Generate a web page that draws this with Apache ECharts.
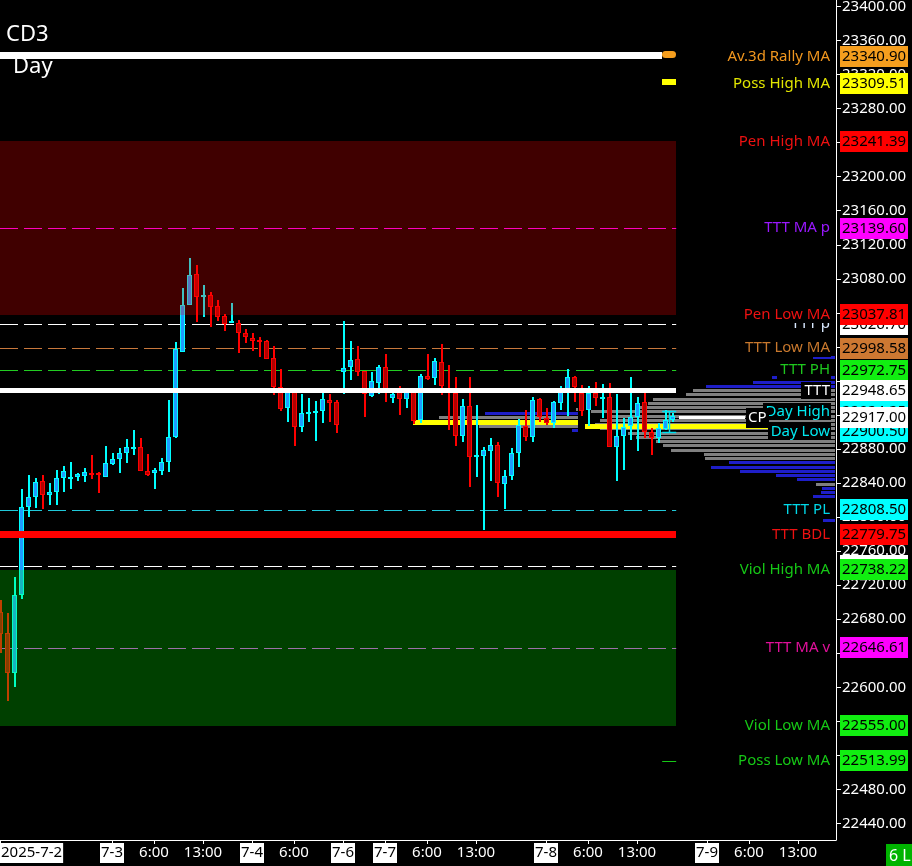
<!DOCTYPE html>
<html>
<head>
<meta charset="utf-8">
<script src="https://cdn.jsdelivr.net/npm/echarts@6.0.0/dist/echarts.min.js"></script>
<style>
html,body{margin:0;padding:0;background:#000;overflow:hidden;}
#chart{width:912px;height:866px;}
</style>
</head>
<body>
<div id="chart"></div>
<script>
// ---------------- DATA ----------------
const xTickIdx = [0, 16, 22, 29, 36, 42, 49, 55, 61, 68, 78, 84, 91, 101, 107, 114];
const xTickLabels = ['2025-7-2', '7-3', '6:00', '13:00', '7-4', '6:00', '7-6', '7-7', '6:00', '13:00', '7-8', '6:00', '13:00', '7-9', '6:00', '13:00'];
const yTicks = [22440, 22480, 22520, 22560, 22600, 22640, 22680, 22720, 22760, 22800, 22840, 22880, 22920, 22960, 23000, 23040, 23080, 23120, 23160, 23200, 23240, 23280, 23320, 23360, 23400];

const candleOpen = [22688.9,22663.4,22617.2,22708.4,22812.2,22823.2,22842.0,22826.4,22829.9,22845.5,
22845.5,22847.5,22848.7,22851.4,22852.2,22847.5,22862.4,22867.9,22874.9,22880.0,
22882.0,22853.8,22851.4,22854.6,22864.4,22894.5,22994.4,23049.2,23085.3,23058.2,
23060.6,23048.1,23036.3,23027.7,23028.5,23015.9,23010.5,23008.1,23007.3,22986.6,
22953.3,22927.8,22947.0,22905.5,22922.7,22922.7,22925.1,22937.6,22934.9,22970.9,
22976.8,22985.4,22971.7,22942.7,22957.9,22976.0,22940.0,22947.4,22939.2,22947.4,
22914.1,22965.8,22963.1,22982.3,22950.0,22945.4,22895.3,22930.5,22871.0,22872.2,
22878.0,22884.7,22838.5,22848.7,22874.9,22907.0,22894.5,22938.4,22916.1,22911.0,
22934.5,22946.2,22964.2,22946.2,22925.9,22945.4,22940.3,22940.7,22882.8,22895.3,
22907.4,22918.0,22935.6,22900.4,22892.6,22903.1,22914.1];
const candleClose = [22662.6,22617.2,22708.5,22812.2,22823.2,22840.8,22826.4,22829.1,22845.5,22853.8,
22846.7,22850.3,22852.6,22850.6,22849.1,22863.2,22867.9,22874.9,22882.0,22882.4,
22854.6,22849.5,22855.3,22864.4,22893.7,22997.1,23048.8,23084.1,23058.2,23061.0,
23047.3,23035.5,23026.9,23030.0,23015.9,23011.2,23006.6,23006.9,22986.2,22953.3,
22927.4,22947.0,22906.3,22922.7,22923.9,22924.3,22938.4,22934.5,22907.8,22975.6,
22984.6,22970.9,22944.3,22959.9,22976.8,22946.6,22945.0,22938.4,22947.4,22913.3,
22965.8,22961.9,22983.4,22954.0,22946.0,22895.3,22930.5,22871.0,22873.0,22878.8,
22884.7,22839.7,22848.3,22874.9,22908.2,22894.5,22937.6,22917.2,22911.0,22935.6,
22948.6,22964.2,22952.5,22924.7,22945.4,22940.3,22941.3,22882.8,22895.3,22906.3,
22917.2,22934.5,22900.4,22892.6,22904.3,22914.1,22918.8];
const candleLow = [22639.9,22583.9,22600.7,22703.7,22800.5,22811.1,22809.9,22814.6,22814.6,22829.9,
22833.4,22842.8,22841.6,22845.1,22828.7,22847.5,22861.2,22852.2,22864.0,22873.0,
22854.6,22848.7,22832.6,22849.5,22853.4,22893.3,22994.4,23049.2,23029.6,23035.5,
23023.8,23030.4,23019.1,23027.7,22993.2,23005.0,22995.6,22988.5,22985.4,22943.9,
22925.0,22912.1,22883.9,22900.4,22912.1,22889.8,22910.9,22912.1,22898.4,22944.6,
22961.1,22965.8,22917.2,22941.5,22944.3,22935.6,22934.5,22920.0,22928.6,22909.4,
22911.0,22961.1,22955.2,22943.5,22902.3,22883.9,22888.6,22835.8,22847.5,22784.8,
22842.8,22824.0,22809.1,22843.6,22859.3,22889.8,22888.6,22912.1,22908.2,22905.1,
22925.9,22918.8,22935.6,22918.8,22907.0,22930.5,22916.1,22882.8,22842.4,22855.3,
22890.6,22878.0,22892.5,22873.0,22886.7,22902.3,22912.1];
const candleHigh = [22702.6,22687.3,22729.6,22832.6,22849.1,22845.5,22849.1,22839.7,22855.4,22859.7,
22864.4,22851.4,22857.3,22872.6,22852.6,22883.6,22874.9,22880.8,22891.4,22902.0,
22892.6,22874.1,22857.3,22869.1,22937.6,23005.8,23069.2,23104.5,23096.2,23072.7,
23064.5,23055.1,23038.7,23051.2,23031.6,23021.0,23015.9,23011.2,23008.1,23001.0,
22973.6,22951.3,22949.3,22944.6,22939.9,22936.4,22947.4,22944.6,22937.6,23030.4,
23006.9,23001.0,22971.7,22970.9,22978.7,22991.7,22952.0,22954.0,22952.0,22952.0,
22968.1,22991.7,22987.3,23003.4,22978.7,22964.6,22939.2,22964.2,22931.7,22882.0,
22893.3,22887.9,22855.3,22880.8,22915.3,22925.9,22940.7,22939.6,22927.8,22936.4,
22954.0,22973.6,22965.8,22955.2,22954.0,22959.1,22956.4,22958.0,22944.6,22916.8,
22964.2,22940.7,22945.4,22904.3,22910.2,22925.9,22921.9];

// right-side level labels (drawing order)
const levelNames = ['Av.3d Rally MA','Poss High MA','Pen High MA','TTT MA p','TTT p','Pen Low MA','TTT Low MA','TTT PH','TTT','Day High','Day Low','CP','TTT PL','TTT BDL','','Viol High MA','TTT MA v','Viol Low MA','Poss Low MA'];
const levelValues = [23340.90,23309.51,23241.39,23139.60,23026.70,23037.81,22998.58,22972.75,22948.65,22924.25,22900.50,22917.00,22808.50,22779.75,22742.75,22738.22,22646.61,22555.00,22513.99];

// shaded zones
const zoneHigh = [23241.39, 22738.22];
const zoneLow = [23037.81, 22555.00];

// dashed level lines
const dashedValues = [23139.60, 23026.70, 22998.58, 22972.75, 22808.50, 22742.75, 22646.61];

// thick solid level lines
const solidValues = [23342.5, 22948.65, 22779.75];

// previous-profile POC lines (bar index ranges)
const pocValues = [22911.7, 22906.7];
const pocFrom = [59, 83.6];
const pocTo = [82.6, 110];

// CP line
const cpValue = 22917.00;
const cpFrom = 97, cpTo = 106.4;

// volume profiles (price rows, volume, outside-value-area flag)
const rightProfilePrice = [22988,22963.75,22958.75,22953.75,22948.75,22943.75,22938.75,22933.75,22928.75,22923.75,22918.75,22913.75,22908.75,22903.75,22898.75,22893.75,22888.75,22883.75,22878.75,22873.75,22868.75,22863.75,22858.75,22853.75,22848.75,22843.75,22838.75,22833.75,22828.75,22823.75,22796.5];
const rightProfileVol   = [22,63,82,129,142,149,182,187,195,244,226,235,240,235,207,199,179,172,164,131,130,106,124,95,59,38,19,13,14,22,12];
const rightProfileOut   = [1,1,1,1,0,0,0,0,0,0,0,0,0,0,0,0,0,0,0,0,0,1,1,1,1,1,0,1,1,1,1];
const leftProfilePrice = [22927, 22922, 22917.5, 22912.5, 22907, 22902];
const leftProfileVol   = [2, 93, 139, 145, 99, 6];
const leftProfileOut   = [0, 1, 0, 0, 0, 1];
const rightProfileAnchor = 119.3, leftProfileAnchor = 82.6;

// ---------------- STYLE ----------------
const FONT = '"Noto Sans", "DejaVu Sans", sans-serif';
const levelTextColors = ['#f0961e','#e2e600','#ee1111','#9a18ff','#d8e8ff','#ee1111','#c8782d','#1ec81e','#ffffff','#00e8f0','#00e8f0','#ffffff','#00d8e8','#ee1111','#ffffff','#16c816','#e0109a','#16c816','#16c816'];
const levelBoxColors  = ['#f59e1e','#ffff00','#ff0000','#ff00ff','#ffffff','#ff0000','#cd7832','#11ee11','#ffffff','#00ffff','#00ffff','#ffffff','#00ffff','#ff0000','#ffffff','#11ee11','#ff00ff','#11ee11','#11ee11'];
const zoneColors = ['rgba(255,0,0,0.25)', 'rgba(0,255,0,0.25)'];
const dashedColors = ['#ff00ff','#ffffff','#c8783c','#22cc22','#20c8d8','#ffffff','#d040e0'];
const solidColors = ['#ffffff','#ffffff','#ff0000'];
const solidWidths = [7, 5, 7];
const PROFILE_UNIT = 1 / 7;

const lastBar = candleOpen.length - 1;
const levelEnd = lastBar + 0.6;
const markerStart = lastBar - 1.4;
const solidFrom = [0, 0, 0];
const solidTo = [markerStart, levelEnd, levelEnd];

const candleData = candleOpen.map((o, i) => [i, o, candleClose[i], candleLow[i], candleHigh[i]]);
const profileData = [];
rightProfilePrice.forEach((p, i) => profileData.push([rightProfileAnchor, p, rightProfileVol[i], rightProfileOut[i]]));
leftProfilePrice.forEach((p, i) => profileData.push([leftProfileAnchor, p, leftProfileVol[i], leftProfileOut[i]]));

const measureCtx = document.createElement('canvas').getContext('2d');
function textWidth(s, font) { measureCtx.font = font; return measureCtx.measureText(s).width; }

const chart = echarts.init(document.getElementById('chart'), null, {renderer: 'canvas'});

function hRect(api, x0, x1, v, w, color) {
  const a = api.coord([x0, v]), b = api.coord([x1, v]);
  return {type: 'rect', shape: {x: Math.round(a[0]), y: Math.round(a[1] - w / 2), width: Math.round(b[0]) - Math.round(a[0]), height: w}, style: {fill: color}};
}

const option = {
  backgroundColor: '#000',
  animation: false,
  grid: {left: 0, right: 76, top: 0, bottom: 26, containLabel: false, outerBoundsMode: 'none', show: false},
  xAxis: {
    type: 'value', min: 0, max: 119.43,
    axisLine: {show: true, onZero: false, lineStyle: {color: '#ffffff', width: 1}},
    axisTick: {show: true, customValues: xTickIdx, length: 4, lineStyle: {color: '#ffffff'}},
    splitLine: {show: false},
    axisLabel: {
      show: true, customValues: xTickIdx, margin: 4, alignMinLabel: 'left',
      formatter: function (v) {
        const k = xTickIdx.indexOf(Math.round(v));
        if (k < 0) return '';
        const s = xTickLabels[k];
        return s.indexOf(':') >= 0 ? '{t|' + s + '}' : '{d|' + s + '}';
      },
      rich: {
        d: {backgroundColor: '#ffffff', color: '#000', fontSize: 15, fontFamily: FONT, lineHeight: 18, padding: [2, 1, 3, 1]},
        t: {color: '#ffffff', fontSize: 15, fontFamily: FONT, lineHeight: 18, padding: [2, 0, 3, 0]}
      }
    }
  },
  yAxis: {
    type: 'value', position: 'right', min: 22420.6, max: 23407.6, scale: true,
    axisLine: {show: true, onZero: false, lineStyle: {color: '#ffffff', width: 1}},
    axisTick: {show: true, customValues: yTicks, length: 5, lineStyle: {color: '#ffffff'}},
    splitLine: {show: false},
    axisLabel: {customValues: yTicks, margin: 6, color: '#ffffff', fontSize: 15, fontFamily: FONT, formatter: v => Number(v).toFixed(2)}
  },
  graphic: [
    {type: 'text', x: 6, y: 35, z: 100, style: {text: 'CD3', fill: '#ffffff', font: '22px ' + FONT, verticalAlign: 'middle'}},
    {type: 'text', x: 13, y: 67, z: 100, style: {text: 'Day', fill: '#ffffff', font: '22px ' + FONT, verticalAlign: 'middle'}},
    {type: 'rect', x: 886, y: 844, z: 100, shape: {x: 0, y: 0, width: 26, height: 22}, style: {fill: '#00b400'}},
    {type: 'text', x: 889, y: 856, z: 101, style: {text: '6 L', fill: '#ffffff', font: '16px ' + FONT, verticalAlign: 'middle'}}
  ],
  series: [
    { // volume profiles
      type: 'custom', name: 'profile', z: 1, silent: true,
      data: profileData,
      renderItem: function (params, api) {
        const anchor = api.value(0), p = api.value(1), vol = api.value(2), out = api.value(3);
        const r = api.coord([anchor, p]), l = api.coord([anchor - vol * PROFILE_UNIT, p]);
        const y = Math.round(r[1] - 1.5);
        return {type: 'rect', shape: {x: Math.round(l[0]), y: y, width: Math.round(r[0]) - Math.round(l[0]), height: 3},
          style: {fill: out ? '#1e1ec8' : '#808080'}};
      }
    },
    { // POC yellow + dashed lines
      type: 'custom', name: 'levels', z: 2, silent: true,
      data: dashedValues.map((v, i) => [i, v]),
      renderItem: function (params, api) {
        const i = params.dataIndex;
        const children = [];
        const a = api.coord([0, dashedValues[i]]), b = api.coord([levelEnd, dashedValues[i]]);
        const y = Math.round(a[1]) + 0.5;
        children.push({type: 'line', shape: {x1: a[0], y1: y, x2: b[0], y2: y}, style: {stroke: dashedColors[i], lineWidth: 1, lineDash: [18, 6]}});
        if (i < pocValues.length) children.push(hRect(api, pocFrom[i], pocTo[i], pocValues[i], 5, '#ffff00'));
        return {type: 'group', children: children};
      }
    },
    { // candles
      type: 'custom', name: 'candles', z: 3, silent: true,
      data: candleData,
      renderItem: function (params, api) {
        const i = api.value(0), o = api.value(1), c = api.value(2), l = api.value(3), h = api.value(4);
        const po = api.coord([i, o]), pc = api.coord([i, c]), pl = api.coord([i, l]), ph = api.coord([i, h]);
        const xc = Math.round(po[0]);
        const up = c >= o;
        const edge = up ? '#00ffff' : '#ff0000';
        const fill = up ? '#1e9bff' : '#b00000';
        const top = Math.round(Math.min(po[1], pc[1])), bot = Math.round(Math.max(po[1], pc[1]));
        const bh = Math.max(2, bot - top);
        const yh = Math.round(ph[1]), yl = Math.round(pl[1]);
        const ch = [
          {type: 'rect', shape: {x: xc, y: yh, width: 2, height: Math.max(1, yl - yh)}, style: {fill: edge}},
          {type: 'rect', shape: {x: xc - 2, y: top, width: 5, height: bh}, style: {fill: edge}}
        ];
        if (bh > 2) ch.push({type: 'rect', shape: {x: xc - 1, y: top + 1, width: 3, height: bh - 2}, style: {fill: fill}});
        return {type: 'group', children: ch};
      }
    },
    { // zones
      type: 'custom', name: 'zones', z: 4, silent: true,
      data: zoneHigh.map((v, i) => [i, v, zoneLow[i]]),
      renderItem: function (params, api) {
        const i = params.dataIndex;
        const a = api.coord([0, zoneHigh[i]]), b = api.coord([levelEnd, zoneLow[i]]);
        return {type: 'rect', shape: {x: a[0], y: Math.round(a[1]), width: Math.round(b[0]) - a[0], height: Math.round(b[1]) - Math.round(a[1])}, style: {fill: zoneColors[i]}};
      }
    },
    { // solid lines, markers, CP line, day bracket
      type: 'custom', name: 'solids', z: 5, silent: true,
      data: [[0, 0]],
      renderItem: function (params, api) {
        const ch = [];
        solidValues.forEach((v, i) => ch.push(hRect(api, solidFrom[i], solidTo[i], v, solidWidths[i], solidColors[i])));
        const ra = api.coord([markerStart, levelValues[0]]), rb = api.coord([levelEnd, levelValues[0]]);
        ch.push({type: 'rect', shape: {x: Math.round(ra[0]), y: Math.round(ra[1] - 3.5) - 2, width: Math.round(rb[0] - ra[0]), height: 7, r: 3.5}, style: {fill: '#f59e1e'}});
        const pa = api.coord([markerStart, levelValues[1]]);
        ch.push({type: 'rect', shape: {x: Math.round(pa[0]), y: Math.round(pa[1] - 3) - 1, width: Math.round(rb[0] - ra[0]), height: 6}, style: {fill: '#ffff00'}});
        const la = api.coord([markerStart, levelValues[18]]);
        ch.push({type: 'line', shape: {x1: la[0], y1: Math.round(la[1]) + 0.5, x2: rb[0], y2: Math.round(la[1]) + 0.5}, style: {stroke: '#16c816', lineWidth: 1}});
        ch.push(hRect(api, cpFrom, cpTo, cpValue, 3, '#ffffff'));
        const dh = api.coord([markerStart, levelValues[9]]), dl = api.coord([levelEnd, levelValues[10]]);
        const mid = Math.round((dh[0] + dl[0]) / 2) + 0.5;
        const yT = Math.round(dh[1]) + 0.5, yB = Math.round(dl[1]) + 0.5;
        ch.push({type: 'line', shape: {x1: dh[0], y1: yT, x2: dl[0], y2: yT}, style: {stroke: '#00e0f0', lineWidth: 1.5}});
        ch.push({type: 'line', shape: {x1: dh[0], y1: yB, x2: dl[0], y2: yB}, style: {stroke: '#00e0f0', lineWidth: 1.5}});
        ch.push({type: 'line', shape: {x1: mid, y1: yT, x2: mid, y2: yB}, style: {stroke: '#00e0f0', lineWidth: 1.5}});
        return {type: 'group', children: ch};
      }
    },
    { // right labels
      type: 'custom', name: 'labels', z: 10, silent: true, clip: false,
      data: levelValues.map((v, i) => [i, v]),
      renderItem: function (params, api) {
        const i = params.dataIndex;
        const v = levelValues[i];
        const y = api.coord([0, v])[1];
        const name = levelNames[i];
        const ch = [];
        const zb = i * 10;
        const f15 = '15px ' + FONT;
        if (name && name !== 'CP') {
          const w = textWidth(name, f15);
          ch.push({type: 'rect', z2: zb, shape: {x: Math.round(830 - w - 3), y: Math.round(y - 8.5), width: Math.round(w + 4), height: 17}, style: {fill: '#000'}});
          ch.push({type: 'text', z2: zb + 1, style: {text: name, x: 830, y: y, align: 'right', verticalAlign: 'middle', fill: levelTextColors[i], font: f15}});
        }
        const top = Math.round(y - 10.5);
        ch.push({type: 'rect', z2: zb + 2, shape: {x: 840, y: top, width: 68, height: 21}, style: {fill: levelBoxColors[i]}});
        ch.push({type: 'text', z2: zb + 3, style: {text: v.toFixed(2), x: 842, y: top + 11, verticalAlign: 'middle', fill: '#000', font: f15}});
        if (name === 'CP') {
          const p = api.coord([cpTo, v]);
          const w = textWidth('CP', f15);
          ch.push({type: 'rect', z2: zb + 4, shape: {x: Math.round(p[0]) + 1, y: Math.round(p[1] - 10), width: Math.round(w + 4), height: 20}, style: {fill: '#000'}});
          ch.push({type: 'text', z2: zb + 5, style: {text: 'CP', x: Math.round(p[0]) + 3, y: p[1], verticalAlign: 'middle', fill: '#ffffff', font: f15}});
        }
        return {type: 'group', children: ch};
      }
    }
  ]
};
chart.setOption(option);
</script>
</body>
</html>
